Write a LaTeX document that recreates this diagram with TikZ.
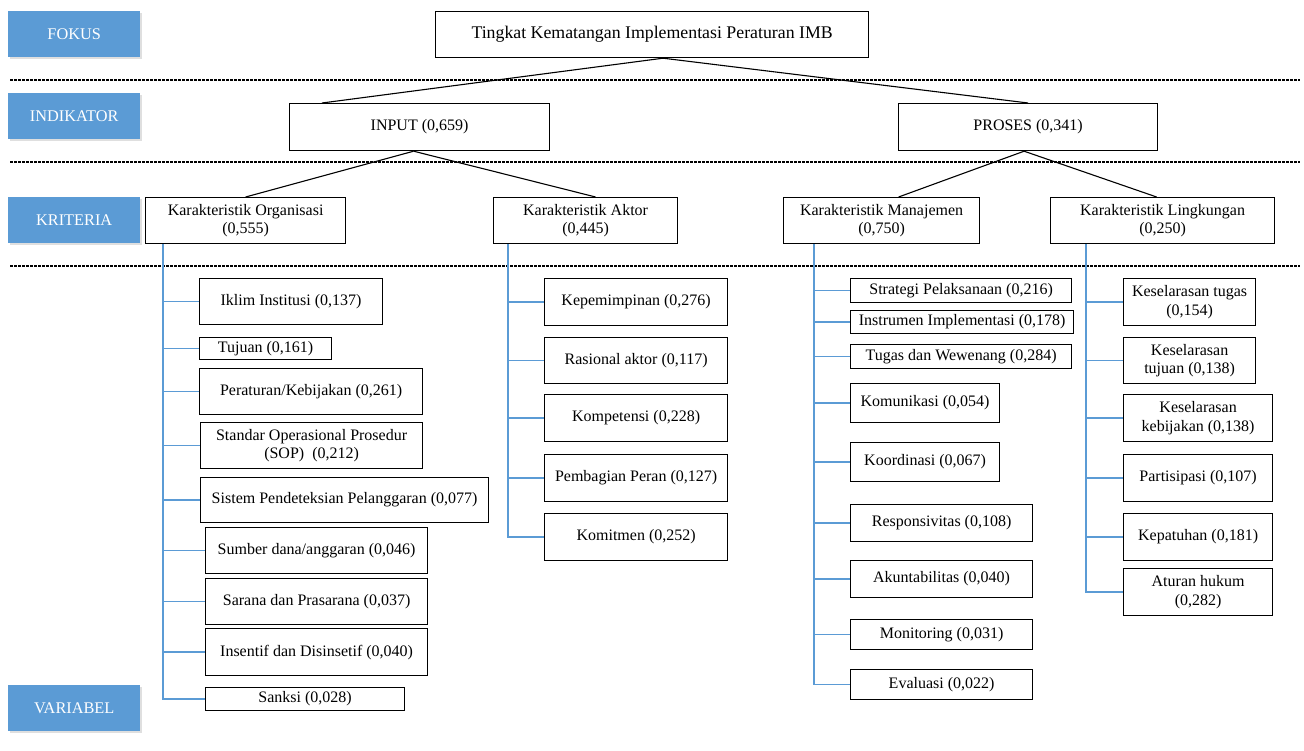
\documentclass[tikz,border=0pt]{standalone}
\usepackage{fontspec}
\setmainfont{Liberation Serif}
\usetikzlibrary{shadows}

\definecolor{lblblue}{HTML}{5B9BD5}

\tikzset{
    box/.style={draw, line width=1.2pt, fill=white, inner sep=0pt, anchor=north west, align=center, font=\fontsize{16}{18.5}\selectfont},
    lvl/.style={fill=lblblue, text=white, inner sep=0pt, anchor=north west, minimum width=132pt, minimum height=46pt,
        font=\fontsize{16.3}{18}\selectfont, drop shadow={shadow xshift=1.5pt, shadow yshift=-2pt, opacity=0.25}},
    sep/.style={line width=1.1pt, dash pattern=on 2.5pt off 1.5pt},
    link/.style={line width=1.1pt},
    branch/.style={lblblue, line width=1.6pt}
}

\begin{document}
\begin{tikzpicture}[x=1pt, y=-1pt]
    \useasboundingbox (0,0) rectangle (1304,751);

    % level labels
    \node[lvl] (lfokus) at (8,11) {FOKUS};
    \node[lvl] (lind) at (8,93) {INDIKATOR};
    \node[lvl] (lkrit) at (8,197) {KRITERIA};
    \node[lvl] (lvar) at (8,685) {VARIABEL};

    \draw[sep] (10,80) -- (1300,80);
    \draw[sep] (10,162) -- (1300,162);
    \draw[sep] (10,266) -- (1300,266);

    % fokus and indikator
    \node[box, minimum width=433pt, minimum height=46pt, font=\fontsize{17.8}{20}\selectfont] (top) at (435,11) {Tingkat Kematangan Implementasi Peraturan IMB};
    \node[box, minimum width=260pt, minimum height=47pt] (inp) at (289,103) {INPUT (0,659)};
    \node[box, minimum width=259pt, minimum height=47pt] (pros) at (898,103) {PROSES (0,341)};

    % kriteria
    \node[box, minimum width=200pt, minimum height=46pt] (org) at (145,197) {Karakteristik Organisasi\\(0,555)};
    \node[box, minimum width=184pt, minimum height=46pt] (akt) at (493,197) {Karakteristik Aktor\\(0,445)};
    \node[box, minimum width=196pt, minimum height=46pt] (man) at (783,197) {Karakteristik Manajemen\\(0,750)};
    \node[box, minimum width=224pt, minimum height=46pt] (ling) at (1050,197) {Karakteristik Lingkungan\\(0,250)};

    \draw[link] ([xshift=11pt]top.south) -- ([xshift=33pt]inp.north west);
    \draw[link] ([xshift=11pt]top.south) -- (pros.north);
    \draw[link] ([xshift=-6pt]inp.south) -- (org.north);
    \draw[link] ([xshift=-6pt]inp.south) -- ([xshift=10pt]akt.north);
    \draw[link] ([xshift=-4pt]pros.south) -- ([xshift=17pt]man.north);
    \draw[link] ([xshift=-4pt]pros.south) -- ([xshift=-6pt]ling.north);

    % variabel organisasi
    \node[box, minimum width=183pt, minimum height=46pt] (o1) at (199,278) {Iklim Institusi (0,137)};
    \node[box, minimum width=132pt, minimum height=22pt] (o2) at (199,337) {Tujuan (0,161)};
    \node[box, minimum width=223pt, minimum height=46pt] (o3) at (199,368) {Peraturan/Kebijakan (0,261)};
    \node[box, minimum width=222pt, minimum height=46pt] (o4) at (200,422) {Standar Operasional Prosedur\\(SOP)~ (0,212)};
    \node[box, minimum width=288pt, minimum height=45pt] (o5) at (200,477) {Sistem Pendeteksian Pelanggaran (0,077)};
    \node[box, minimum width=222pt, minimum height=46pt] (o6) at (205,527) {Sumber dana/anggaran (0,046)};
    \node[box, minimum width=222pt, minimum height=46pt] (o7) at (205,578) {Sarana dan Prasarana (0,037)};
    \node[box, minimum width=222pt, minimum height=47pt] (o8) at (205,628) {Insentif dan Disinsetif (0,040)};
    \node[box, minimum width=199pt, minimum height=23pt] (o9) at (205,687) {Sanksi (0,028)};

    % variabel aktor
    \node[box, minimum width=183pt, minimum height=47pt] (a1) at (544,278) {Kepemimpinan (0,276)};
    \node[box, minimum width=183pt, minimum height=46pt] (a2) at (544,337) {Rasional aktor (0,117)};
    \node[box, minimum width=183pt, minimum height=47pt] (a3) at (544,394) {Kompetensi (0,228)};
    \node[box, minimum width=183pt, minimum height=47pt] (a4) at (544,454) {Pembagian Peran (0,127)};
    \node[box, minimum width=183pt, minimum height=47pt] (a5) at (544,513) {Komitmen (0,252)};

    % variabel manajemen
    \node[box, minimum width=221pt, minimum height=24pt] (m1) at (850,278) {Strategi Pelaksanaan (0,216)};
    \node[box, minimum width=223pt, minimum height=23pt] (m2) at (850,310) {Instrumen Implementasi (0,178)};
    \node[box, minimum width=221pt, minimum height=24pt] (m3) at (850,344) {Tugas dan Wewenang (0,284)};
    \node[box, minimum width=149pt, minimum height=39pt] (m4) at (850,383) {Komunikasi (0,054)};
    \node[box, minimum width=149pt, minimum height=39pt] (m5) at (850,442) {Koordinasi (0,067)};
    \node[box, minimum width=182pt, minimum height=37pt] (m6) at (850,504) {Responsivitas (0,108)};
    \node[box, minimum width=182pt, minimum height=37pt] (m7) at (850,560) {Akuntabilitas (0,040)};
    \node[box, minimum width=182pt, minimum height=30pt] (m8) at (850,619) {Monitoring (0,031)};
    \node[box, minimum width=182pt, minimum height=30pt] (m9) at (850,669) {Evaluasi (0,022)};

    % variabel lingkungan
    \node[box, minimum width=132pt, minimum height=47pt] (l1) at (1123,278) {Keselarasan tugas\\(0,154)};
    \node[box, minimum width=132pt, minimum height=46pt] (l2) at (1123,337) {Keselarasan\\tujuan (0,138)};
    \node[box, minimum width=149pt, minimum height=47pt] (l3) at (1123,394) {Keselarasan\\kebijakan (0,138)};
    \node[box, minimum width=149pt, minimum height=47pt] (l4) at (1123,454) {Partisipasi (0,107)};
    \node[box, minimum width=149pt, minimum height=47pt] (l5) at (1123,513) {Kepatuhan (0,181)};
    \node[box, minimum width=149pt, minimum height=47pt] (l6) at (1123,568) {Aturan hukum\\(0,282)};

    % blue trees
    \coordinate (ot) at ([xshift=18pt]org.south west);
    \coordinate (at) at ([xshift=15pt]akt.south west);
    \coordinate (mt) at ([xshift=31pt]man.south west);
    \coordinate (lt) at ([xshift=36pt]ling.south west);

    \draw[branch] (ot) |- (o9.west);
    \foreach \c in {o1,o2,o3,o4,o5,o6,o7,o8}
        \draw[branch] (ot |- \c.west) -- (\c.west);
    \draw[branch] (at) |- (a5.west);
    \foreach \c in {a1,a2,a3,a4}
        \draw[branch] (at |- \c.west) -- (\c.west);
    \draw[branch] (mt) |- (m9.west);
    \foreach \c in {m1,m2,m3,m4,m5,m6,m7,m8}
        \draw[branch] (mt |- \c.west) -- (\c.west);
    \draw[branch] (lt) |- (l6.west);
    \foreach \c in {l1,l2,l3,l4,l5}
        \draw[branch] (lt |- \c.west) -- (\c.west);
\end{tikzpicture}
\end{document}
